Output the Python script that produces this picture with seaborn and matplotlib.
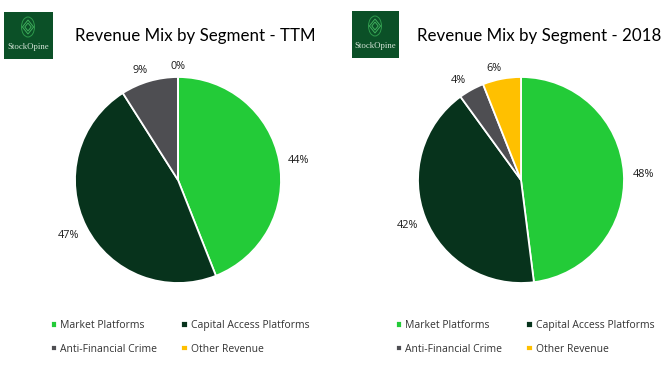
import matplotlib
matplotlib.use('Agg')
import matplotlib.pyplot as plt
from matplotlib.patches import Rectangle, Polygon, Ellipse
import seaborn as sns

segments = ['Market Platforms', 'Capital Access Platforms', 'Anti-Financial Crime', 'Other Revenue']
ttm_values = [44, 47, 9, 0]
y2018_values = [48, 42, 4, 6]
segment_colors = ['#23CB38', '#07331C', '#4E4E52', '#FFC000']
titles = ['Revenue Mix by Segment - TTM', 'Revenue Mix by Segment - 2018']

W, H = 671, 371

sns.set_theme(style='white')
plt.rcParams['font.family'] = ['Open Sans', 'DejaVu Sans']
palette = sns.color_palette(segment_colors)

fig = plt.figure(figsize=(W / 100, H / 100), dpi=100, facecolor='white')


def draw_logo(x0, y0, w, h):
    # logo is drawn in pixel units, y pointing down
    ax = fig.add_axes([x0 / W, 1 - (y0 + h) / H, w / W, h / H])
    ax.set_xlim(0, w)
    ax.set_ylim(h, 0)
    ax.axis('off')
    ax.add_patch(Rectangle((0, 0), w, h, color='#0B5027', lw=0))
    cx = w / 2 - 0.5
    ax.add_patch(Ellipse((cx, 15), 13, 20, fill=False, ec='#2E9A4C', lw=0.7))
    for r in (7, 4):
        ax.add_patch(Polygon([(cx, 15 - r), (cx + r * 0.8, 15), (cx, 15 + r), (cx - r * 0.8, 15)],
                             fill=False, ec='#3FAE5C', lw=0.7))
    ax.text(w / 2, 35, 'StockOpine', color='#D5E4D8', fontsize=6.3, family='Liberation Serif',
            ha='center', va='center')


def draw_pie(values, cx, title, title_x, leg_x, logo):
    r = 103
    size = 3 * r
    ax = fig.add_axes([(cx - size / 2) / W, 1 - (180 + size / 2) / H, size / W, size / H])
    wedges, _, autotexts = ax.pie(values, colors=palette, startangle=90, counterclock=False,
                                  autopct='%.0f%%', pctdistance=1.19,
                                  wedgeprops={'edgecolor': 'white', 'linewidth': 1.3})
    ax.set_xlim(-1.5, 1.5)
    ax.set_ylim(-1.5, 1.5)
    for t in autotexts:
        t.set_fontsize(7.8)
        t.set_color('#1a1a1a')
        # labels in the upper half sit closer to the pie in the reference
        x, y = t.get_position()
        if x < -0.1 and y > 0.9:
            x -= 0.04
        if y > 0:
            y -= 0.02 + 0.055 * y
        t.set_position((x, y))
    fig.text(title_x / W, 1 - 36 / H, title, fontsize=12.2, family='Lato', color='black',
             ha='left', va='center')
    # reference legend reads row by row, matplotlib fills columns first
    order = [0, 2, 1, 3]
    fig.legend([wedges[i] for i in order], [segments[i] for i in order], ncol=2, loc='center left',
               bbox_to_anchor=(leg_x / W, 1 - 337.5 / H), frameon=False, fontsize=7.5,
               labelcolor='#333333', handlelength=0.6, handleheight=0.6, handletextpad=0.3,
               columnspacing=2.3, labelspacing=1.2, borderpad=0, borderaxespad=0)
    draw_logo(*logo)


draw_pie(ttm_values, 178, titles[0], 75, 51, (4, 12, 49, 47))
draw_pie(y2018_values, 521, titles[1], 417, 396, (352, 11, 47, 47))

fig.savefig('out.png', dpi=100)
